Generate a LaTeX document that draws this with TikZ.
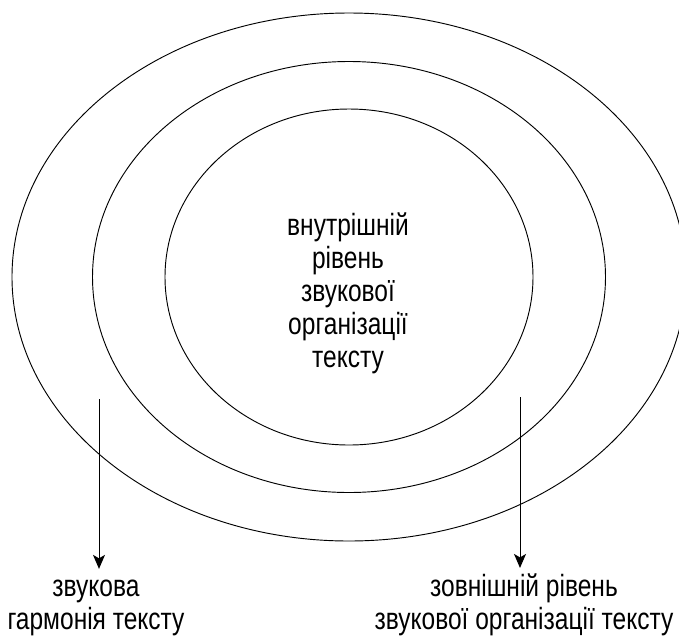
\documentclass[tikz,border=0pt]{standalone}
\usepackage{fontspec}
\setmainfont{Liberation Sans}[FakeStretch=0.8]
\usetikzlibrary{shapes}
\usetikzlibrary{arrows.meta}

\begin{document}
\begin{tikzpicture}[x=0.75pt,y=-0.75pt]
					\tikzstyle{ring}=[ellipse,draw,line width=0.7pt,inner sep=0pt]
					\tikzstyle{txt}=[align=center,inner sep=0pt,font=\fontsize{23}{24.8}\selectfont]
					\tikzstyle{arr}=[-{Stealth[length=10.5pt,width=9pt,inset=2.6pt]},line width=0.75pt]
					\useasboundingbox (0,0) rectangle (679,637);
					
					\node[ring,minimum width=505.5pt,minimum height=396pt] (outer) at (349,277) {};
					\node[ring,minimum width=384.75pt,minimum height=323.25pt] (middle) at (349,277) {};
					\node[ring,minimum width=276pt,minimum height=252pt] (inner) at (349,277) {};
					\node[txt] (core) at (348,293) {внутрішній\\рівень\\звукової\\організації\\тексту};
					
					\node[txt,anchor=south] (harmony) at (96,636) {звукова\\гармонія тексту};
					\node[txt,anchor=south] (outside) at (524,636) {зовнішній рівень\\звукової організації тексту};
					\coordinate (hstart) at (99,399);
					\coordinate (ostart) at (520,397);
					\draw[arr,shorten >=8pt] (hstart) -- (hstart |- harmony.north);
					\draw[arr,shorten >=4pt] (ostart) -- (ostart |- outside.north);
					
					;\end{tikzpicture}
\end{document}
